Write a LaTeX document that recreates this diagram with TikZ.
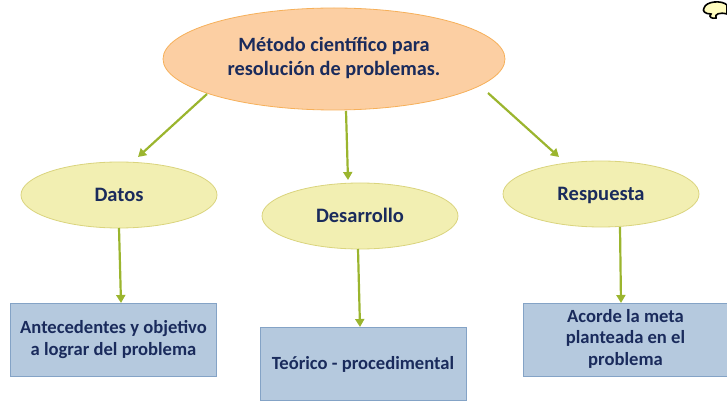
\documentclass[tikz,border=0pt]{standalone}
\usepackage{fontspec}
\setmainfont{Carlito}
\usetikzlibrary{shapes.geometric,arrows.meta}
\definecolor{txt}{HTML}{1A2B5C}
\definecolor{arr}{HTML}{9BB52E}
\definecolor{peach}{HTML}{FCCFA3}
\definecolor{peachb}{HTML}{F6B05A}
\definecolor{pale}{HTML}{F2EFB2}
\definecolor{paleb}{HTML}{DAD47E}
\definecolor{boxf}{HTML}{B5C9DE}
\definecolor{boxb}{HTML}{84A3C6}
\tikzset{
  mainell/.style={ellipse, draw=peachb, fill=peach, line width=0.8pt, inner sep=0pt,
    minimum width=342pt, minimum height=102pt, text=txt, font=\bfseries\fontsize{20.3}{24}\selectfont, align=center},
  subell/.style={ellipse, draw=paleb, fill=pale, line width=0.8pt, inner sep=0pt,
    minimum width=196pt, minimum height=66pt, text=txt, font=\bfseries\fontsize{20.5}{24}\selectfont,
    text height=13pt, text depth=0pt},
  leaf/.style={rectangle, draw=boxb, fill=boxf, line width=0.8pt, inner sep=0pt,
    minimum width=206pt, minimum height=73pt, text=txt, font=\bfseries\fontsize{18.6}{21.5}\selectfont, align=center},
  conn/.style={draw=arr, line width=2.2pt, -{Triangle[length=8pt,width=9pt]}, shorten >=0pt}
}
\begin{document}
\begin{tikzpicture}[x=1pt,y=-1pt]
\useasboundingbox (0,0) rectangle (727,403);
\node[mainell] (top) at (334,59) {\raisebox{-1.5pt}{\begin{tabular}{@{}c@{}}Método científico para\\resolución de problemas.\end{tabular}}};
\node[subell] (datos) at (119,195) {Datos};
\node[subell] (des) at (360,216) {Desarrollo};
\node[subell] (resp) at (601,194) {Respuesta};
\node[leaf] (b1) at (113.5,339.5) {Antecedentes y objetivo\\a lograr del problema};
\node[leaf] (b2) at (363,364) {Teórico - procedimental};
\node[leaf, minimum width=205pt] (b3) at (625.5,339.5) {\raisebox{-2pt}{\begin{tabular}{@{}c@{}}Acorde la meta\\planteada en el\\problema\end{tabular}}};
\coordinate (t1) at (207,94);
\coordinate (t2) at (346,111);
\coordinate (t3) at (488,93);
\coordinate (s1) at (119,228);
\coordinate (s2) at (358,249);
\coordinate (s3) at (620,227);
\draw[conn] (t1) -- (138,157);
\draw[conn] (t2) -- (348,180);
\draw[conn] (t3) -- (559,157);
\draw[conn] (s1) -- (121,303);
\draw[conn] (s2) -- (360,327);
\draw[conn] (s3) -- (621,303);
% small clip-art at top right
\draw[line width=1.6pt, fill=yellow!25] (704,8) .. controls (706,1) and (722,0) .. (727,5) -- (727,14) .. controls (720,12) and (714,14) .. (716,18) .. controls (712,19) and (708,17) .. (711,14) .. controls (705,14) and (702,11) .. (704,8) -- cycle;
\end{tikzpicture}
\end{document}
